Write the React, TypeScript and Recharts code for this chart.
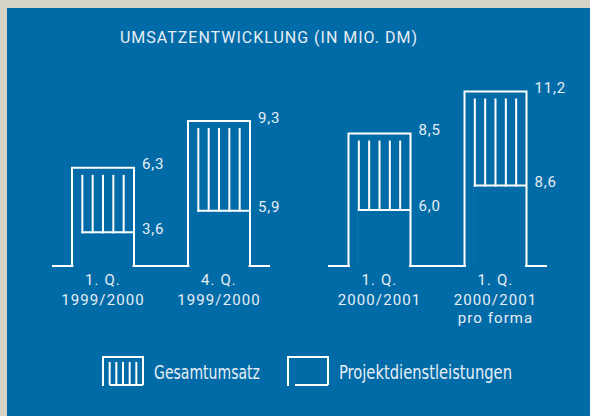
import { ComposedChart, Bar, XAxis, YAxis, LabelList } from "recharts";

const BLUE = "#016ba7";
const PAPER = "#d6d2c6";
const INK = "#e6eef5";

// first group: business year 1999/2000
const keys1 = ["q1-99", "q4-99"];
const quarters1 = ["1. Q.", "4. Q."];
const years1 = ["1999/2000", "1999/2000"];
const notes1 = ["", ""];
const gesamt1 = [6.3, 9.3];
const projekt1 = [3.6, 5.9];

// second group: business year 2000/2001
const keys2 = ["q1-00", "q1-00-pf"];
const quarters2 = ["1. Q.", "1. Q."];
const years2 = ["2000/2001", "2000/2001"];
const notes2 = ["", "pro forma"];
const gesamt2 = [8.5, 11.2];
const projekt2 = [6.0, 8.6];

const buildRows = (
  keys: string[], quarters: string[], years: string[], notes: string[],
  gesamt: number[], projekt: number[],
) =>
  keys.map((key, i) => ({
    key, quarter: quarters[i], year: years[i], note: notes[i],
    gesamt: gesamt[i], projekt: projekt[i],
  }));

const rows1 = buildRows(keys1, quarters1, years1, notes1, gesamt1, projekt1);
const rows2 = buildRows(keys2, quarters2, years2, notes2, gesamt2, projekt2);

const BAR_W = 62;
const fmt = (v: number) => v.toFixed(1).replace(".", ",");

// outer box (open at the bottom) with vertical hatching
const OuterBox = (p: any) => {
  const { x, y, width, height } = p;
  const b = y + height;
  const step = width / 6;
  return (
    <g stroke="#fff" strokeWidth={2} fill="none">
      <path d={`M${x},${b} V${y} H${x + width} V${b}`} />
      {[1, 2, 3, 4, 5].map((k) => (
        <line key={k} x1={x + k * step} x2={x + k * step} y1={y + 7} y2={b} />
      ))}
    </g>
  );
};

// clears the hatching below the Projektdienstleistungen value
const InnerCut = (p: any) => {
  const { x, y, width, height } = p;
  const left = x + width / 6;
  return (
    <g>
      <rect x={left - 1.5} y={y + 1} width={width * 5 / 6 - 0.5} height={height + 1} fill={BLUE} />
      <line x1={left - 1} x2={x + width} y1={y} y2={y} stroke="#fff" strokeWidth={2} />
    </g>
  );
};

const ValueLabel = (p: any) => {
  const { x, y, width, value } = p;
  return (
    <text x={x + width + 8} y={y + 1.5} fill={INK} fontSize={15} letterSpacing={0.8}
      fontFamily="Roboto, sans-serif">
      {fmt(Number(value))}
    </text>
  );
};

// category label; also hides the base line under the open bottom of the bar
const makeTick = (rows: any[]) => (p: any) => {
  const { x, y, index } = p;
  const r = rows[index];
  return (
    <g>
      <rect x={x - BAR_W / 2 + 1.5} y={y - 2} width={BAR_W - 3} height={4} fill={BLUE} />
      <g fill={INK} fontSize={15} letterSpacing={1.1} fontFamily="Roboto, sans-serif" textAnchor="middle">
        <text x={x} y={y + 19}>{r.quarter}</text>
        <text x={x} y={y + 38.5}>{r.year}</text>
        {r.note && <text x={x} y={y + 57}>{r.note}</text>}
      </g>
    </g>
  );
};

const Group = ({ rows, left, mLeft, mRight, pad }: any) => (
  <div style={{ position: "absolute", left, top: 0 }}>
    <ComposedChart width={300} height={340} data={rows}
      margin={{ top: 79, left: mLeft, right: mRight, bottom: 14 }}>
      <XAxis xAxisId="a" dataKey="key" height={60} interval={0}
        axisLine={{ stroke: "#fff", strokeWidth: 2 }} tickLine={false} tickSize={0} tickMargin={0}
        tick={makeTick(rows)} padding={{ left: pad, right: pad }} />
      <XAxis xAxisId="b" dataKey="key" hide padding={{ left: pad, right: pad }} />
      <YAxis yAxisId="a" hide domain={[0, 12]} />
      <YAxis yAxisId="b" hide domain={[0, 20]} />
      <Bar xAxisId="a" yAxisId="a" dataKey="gesamt" name="Gesamtumsatz" barSize={BAR_W}
        shape={OuterBox} isAnimationActive={false}>
        <LabelList dataKey="gesamt" content={ValueLabel} />
      </Bar>
      <Bar xAxisId="b" yAxisId="b" dataKey="projekt" name="Projektdienstleistungen" barSize={BAR_W}
        shape={InnerCut} isAnimationActive={false}>
        <LabelList dataKey="projekt" content={ValueLabel} />
      </Bar>
    </ComposedChart>
  </div>
);

const LegendIcon = ({ x, hatched }: { x: number; hatched: boolean }) => {
  const w = 40, top = 357, b = 385;
  const step = w / 6;
  return (
    <g stroke="#fff" strokeWidth={2} fill="none">
      <path d={`M${x},${b + 1} V${top} H${x + w} V${b}`} />
      <line x1={x + (hatched ? step : 7)} x2={x + w} y1={b} y2={b} />
      {hatched && [1, 2, 3, 4, 5].map((k) => (
        <line key={k} x1={x + k * step} x2={x + k * step} y1={top + 5} y2={b} />
      ))}
    </g>
  );
};

export default function App() {
  return (
    <div style={{ position: "fixed", left: 0, top: 0, width: 590, height: 416, background: PAPER, overflow: "hidden" }}>
      <div style={{ position: "absolute", left: 7, top: 8, width: 583, height: 408, background: BLUE }} />
      <Group rows={rows1} left={0} mLeft={52} mRight={30} pad={-7} />
      <Group rows={rows2} left={290} mLeft={38} mRight={43} pad={-6.5} />
      <svg width={590} height={416} style={{ position: "absolute", left: 0, top: 0, pointerEvents: "none" }}>
        <text x={120} y={43.3} fill={INK} fontSize={16} fontFamily="Roboto, sans-serif"
          textLength={297} lengthAdjust="spacing">
          UMSATZENTWICKLUNG (IN MIO. DM)
        </text>
        <LegendIcon x={103} hatched />
        <text x={154} y={379} fill={INK} fontSize={20}
          fontFamily="'Liberation Sans Narrow', 'DejaVu Sans Condensed', Roboto, sans-serif"
          textLength={106} lengthAdjust="spacingAndGlyphs">
          Gesamtumsatz
        </text>
        <LegendIcon x={288} hatched={false} />
        <text x={339} y={379} fill={INK} fontSize={20}
          fontFamily="'Liberation Sans Narrow', 'DejaVu Sans Condensed', Roboto, sans-serif"
          textLength={173} lengthAdjust="spacingAndGlyphs">
          Projektdienstleistungen
        </text>
      </svg>
    </div>
  );
}
